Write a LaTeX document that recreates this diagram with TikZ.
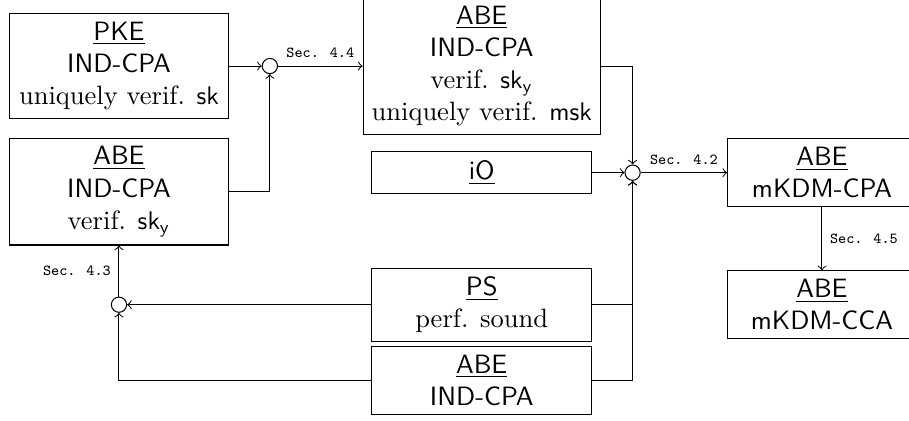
\documentclass[tikz,border=0pt]{standalone}
\usepackage{tikz}
\tikzset{
  block/.style={draw, minimum width=3.03cm, align=center, font=\fontsize{10.4}{12.6}\selectfont},
  small/.style={block, minimum width=2.6cm},
  junction/.style={draw, circle, inner sep=0pt, minimum size=0.21cm},
  flow/.style={->, thin},
  seclabel/.style={font=\fontsize{6}{7}\selectfont\ttfamily, inner sep=3pt}
}
\newcommand{\prim}[1]{\underline{\textsf{#1}}}

\begin{document}
\begin{tikzpicture}
\useasboundingbox (0,0) rectangle (12.53,-5.80);

\node[block] (pke) at (1.64,-0.91) {\prim{PKE}\\ \textsf{IND-CPA}\\ uniquely verif. $\mathsf{sk}$};
\node[block] (abeL) at (1.64,-2.64) {\prim{ABE}\\ \textsf{IND-CPA}\\ verif. $\mathsf{sk_y}$};
\node[junction] (j1) at (3.72,-0.91) {};
\node[block] (abeT) at (6.64,-0.91) {\prim{ABE}\\ \textsf{IND-CPA}\\ verif. $\mathsf{sk_y}$\\ uniquely verif. $\mathsf{msk}$};
\node[block] (io) at (6.64,-2.38) {\prim{iO}};
\node[junction] (j2) at (8.72,-2.38) {};
\node[small] (cpa) at (11.33,-2.38) {\prim{ABE}\\ \textsf{mKDM-CPA}};
\node[small] (cca) at (11.33,-4.20) {\prim{ABE}\\ \textsf{mKDM-CCA}};
\node[block] (ps) at (6.64,-4.20) {\prim{PS}\\ perf. sound};
\node[block] (abeB) at (6.64,-5.24) {\prim{ABE}\\ \textsf{IND-CPA}};
\node[junction] (j3) at (1.64,-4.20) {};

% into the junctions
\draw[flow] (pke) -- (j1);
\draw[flow] (abeL) -| (j1);
\draw[flow] (abeT) -| (j2);
\draw[flow] (io) -- (j2);
\draw[flow] (ps) -| (j2);
\draw[flow] (abeB) -| (j2);
\draw[flow] (ps) -- (j3);
\draw[flow] (abeB) -| (j3);

% out of the junctions
\draw[flow] (j1) -- node[seclabel, above] {Sec. 4.4} (abeT);
\draw[flow] (j2) -- node[seclabel, above] {Sec. 4.2} (cpa);
\draw[flow] (j3) -- node[seclabel, left] {Sec. 4.3} (abeL);
\draw[flow] (cpa) -- node[seclabel, right] {Sec. 4.5} (cca);
\end{tikzpicture}
\end{document}
